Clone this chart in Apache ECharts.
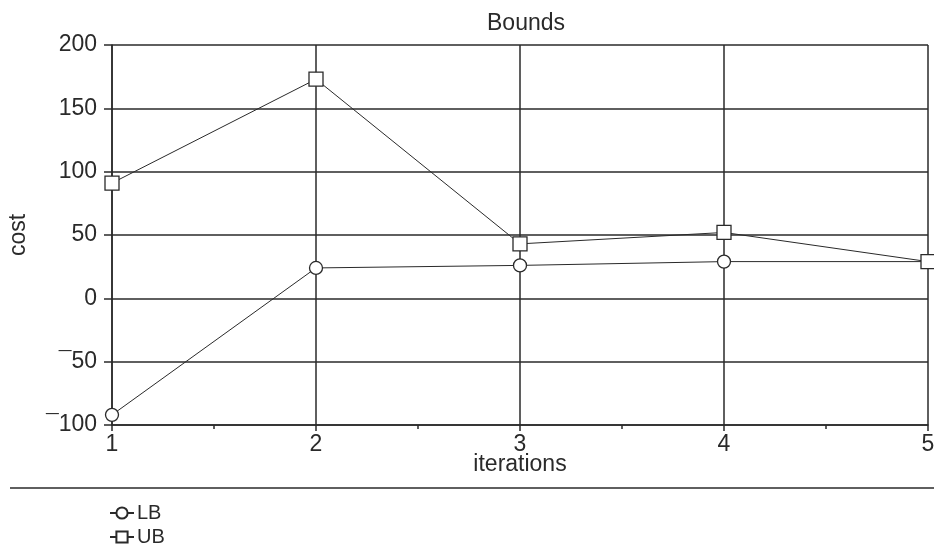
<!DOCTYPE html>
<html><head><meta charset="utf-8">
<script src="https://cdn.jsdelivr.net/npm/echarts@6/dist/echarts.min.js"></script>
<style>html,body{margin:0;padding:0;background:#fff}#c{width:934px;height:555px}</style>
</head><body><div id="c"></div>
<script>
const iterations = [1, 2, 3, 4, 5];
const lbValues = [-92, 24, 26, 29, 29];
const ubValues = [91, 173, 43, 52, 29];
const yTicks = [-100, -50, 0, 50, 100, 150, 200];

const chart = echarts.init(document.getElementById('c'));
const font = 'Liberation Sans, Arial, sans-serif';
const fs = 23;
const ink = '#2a2a2a';
const axisLine = {onZero: false, lineStyle: {color: ink, width: 1.5}};
const legendBase = {orient: 'horizontal', left: 104, itemWidth: 24, itemHeight: 14,
  textStyle: {fontFamily: font, fontSize: 20, color: ink, padding: [0,0,0,-2]}};
chart.setOption({
  backgroundColor: '#fff',
  animation: false,
  title: {text: 'Bounds', left: 521, top: 7, textAlign: 'center',
    textStyle: {fontFamily: font, fontSize: fs, fontWeight: 'normal', color: ink}},
  grid: {left: 112, right: 6, top: 45, bottom: 130, outerBoundsMode: 'none', containLabel: false},
  legend: [
    Object.assign({}, legendBase, {top: 498, data: ['LB']}),
    Object.assign({}, legendBase, {top: 522, data: ['UB']})
  ],
  xAxis: {type: 'value', min: 1, max: 5, interval: 1,
    name: 'iterations', nameLocation: 'middle', nameGap: 28, nameMoveOverlap: false,
    nameTextStyle: {fontFamily: font, fontSize: fs, color: ink},
    axisLine: axisLine,
    axisTick: {show: true, length: 6, lineStyle: {color: ink, width: 1.5}},
    minorTick: {show: true, splitNumber: 2, length: 4, lineStyle: {color: ink, width: 1.5}},
    axisLabel: {fontFamily: font, fontSize: fs, color: ink, margin: 8},
    splitLine: {show: true, lineStyle: {color: ink, width: 1.5}}},
  yAxis: {type: 'value', min: yTicks[0], max: yTicks[yTicks.length-1], interval: 50,
    name: 'cost', nameLocation: 'middle', nameGap: 82, nameRotate: 90, nameMoveOverlap: false,
    nameTextStyle: {fontFamily: font, fontSize: fs, color: ink},
    axisLine: axisLine,
    axisTick: {show: true, length: 8, lineStyle: {color: ink, width: 1.5}},
    axisLabel: {fontFamily: font, fontSize: fs, color: ink, margin: 15,
      formatter: v => v < 0 ? '\u00AF' + Math.abs(v) : String(v)},
    splitLine: {show: true, lineStyle: {color: ink, width: 1.5}}},
  graphic: [{type: 'line', shape: {x1: 10, y1: 488, x2: 934, y2: 488},
    style: {stroke: ink, lineWidth: 1.5}}],
  series: [
    {name: 'LB', type: 'line', data: iterations.map((x, i) => [x, lbValues[i]]),
      symbol: 'circle', symbolSize: 13,
      itemStyle: {color: '#fff', borderColor: ink, borderWidth: 1.3},
      lineStyle: {color: ink, width: 1}, z: 5},
    {name: 'UB', type: 'line', data: iterations.map((x, i) => [x, ubValues[i]]),
      symbol: 'rect', symbolSize: 14,
      itemStyle: {color: '#fff', borderColor: ink, borderWidth: 1.3},
      lineStyle: {color: ink, width: 1}, z: 5}
  ]
});
</script></body></html>
